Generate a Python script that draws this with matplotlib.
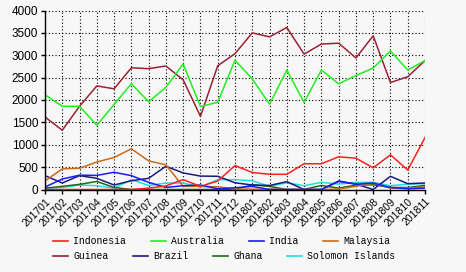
import matplotlib
matplotlib.use("Agg")
import matplotlib.pyplot as plt
from matplotlib.lines import Line2D

# -------------------------------
# Data
# -------------------------------
months = ["201701", "201702", "201703", "201704", "201705", "201706",
          "201707", "201708", "201709", "201710", "201711", "201712",
          "201801", "201802", "201803", "201804", "201805", "201806",
          "201807", "201808", "201809", "201810", "201811"]

indonesia = [0, 0, 0, 0, 0, 0, 30, 80, 220, 70, 190, 535,
             380, 340, 340, 575, 575, 730, 700, 485, 775, 435, 1160]
australia = [2115, 1860, 1860, 1435, 1900, 2365, 1960, 2285, 2805, 1855, 1950, 2890,
             2470, 1905, 2670, 1945, 2670, 2360, 2545, 2715, 3095, 2670, 2880]
india = [55, 235, 320, 315, 385, 310, 160, 45, 85, 100, 15, 40,
         70, 0, 0, 0, 0, 180, 120, 145, 45, 15, 30]
malaysia = [190, 460, 475, 615, 715, 910, 640, 550, 70, 70, 60, 10,
            8, 8, 8, 0, 0, 10, 70, 140, 30, 30, 60]
guinea = [1620, 1325, 1860, 2315, 2250, 2720, 2700, 2760, 2450, 1635, 2765, 3035,
          3500, 3410, 3620, 3025, 3250, 3270, 2940, 3435, 2390, 2520, 2880]
brazil = [310, 145, 310, 250, 100, 195, 250, 520, 370, 300, 295, 150,
          100, 90, 175, 0, 0, 190, 120, 0, 295, 130, 145]
ghana = [30, 70, 115, 180, 45, 0, 0, 0, 0, 0, 0, 0,
         105, 70, 0, 0, 90, 30, 100, 105, 45, 45, 90]
solomon = [30, 45, 100, 85, 30, 220, 90, 145, 145, 55, 220, 220,
           195, 70, 150, 85, 160, 120, 160, 160, 85, 120, 130]

series = [
    ("Indonesia", indonesia, "#ff2020"),
    ("Australia", australia, "#22ee22"),
    ("India", india, "#1a1aff"),
    ("Malaysia", malaysia, "#cc6a1a"),
    ("Guinea", guinea, "#992233"),
    ("Brazil", brazil, "#1a1a80"),
    ("Ghana", ghana, "#1a6a1a"),
    ("Solomon Islands", solomon, "#22dddd"),
]

# -------------------------------
# Plot
# -------------------------------
bg = "#f7f7f7"
fig = plt.figure(figsize=(4.66, 2.72), dpi=100, facecolor=bg)
ax = fig.add_axes([45 / 466, 1 - 189.5 / 272, 380 / 466, 179 / 272], facecolor=bg)

x = list(range(len(months)))
for name, vals, color in series[::-1]:
    ax.plot(x, vals, color=color, linewidth=1.1)

ax.set_xlim(0, len(months) - 1)
ax.set_ylim(0, 4000)
ax.set_yticks(range(0, 4001, 500))
ax.set_xticks(x)
ax.set_xticklabels(months, rotation=45, ha="right", rotation_mode="anchor",
                   fontsize=7.5, family="Liberation Sans")
for lab in ax.get_yticklabels():
    lab.set_family("Liberation Sans")
    lab.set_fontsize(8.5)

ax.grid(True, color="black", linestyle=(0, (1, 2)), linewidth=0.8)
ax.set_axisbelow(True)
for side in ["top", "right"]:
    ax.spines[side].set_visible(False)
for side in ["left", "bottom"]:
    ax.spines[side].set_color("black")
    ax.spines[side].set_linewidth(1.0)
ax.tick_params(axis="both", length=3, width=1, colors="black", pad=2)

# -------------------------------
# Legend (two rows, manual layout)
# -------------------------------
rows = [(241, [53, 151, 249, 323]), (256, [53, 133, 213, 287])]
k = 0
for y, xs in rows:
    for x0 in xs:
        name, _, color = series[k]
        fy = 1 - y / 272
        fig.add_artist(Line2D([x0 / 466, (x0 + 15) / 466], [fy, fy],
                              color=color, linewidth=1.2))
        fig.text((x0 + 20) / 466, fy, name, fontsize=7, family="Liberation Mono",
                 va="center", ha="left", color="black")
        k += 1

fig.savefig("out.png", dpi=100, facecolor=bg)
